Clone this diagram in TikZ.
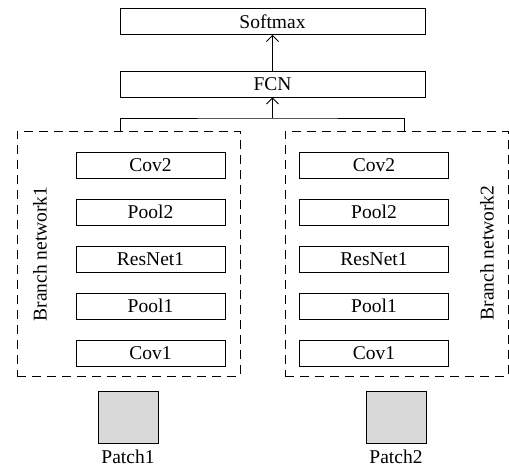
\documentclass[tikz,border=0pt]{standalone}
\usepackage{fontspec}
\setmainfont{Liberation Serif}
\usetikzlibrary{arrows.meta,positioning}

\begin{document}
\begin{tikzpicture}[>={Straight Barb[length=6pt,width=12pt]}, line width=0.9pt,
                    node distance=20pt, font=\fontsize{19.5}{22}\selectfont]
    \tikzstyle{layer}=[draw, minimum width=149pt, minimum height=26pt, inner sep=0pt]
    \tikzstyle{head}=[layer, minimum width=305pt]
    \tikzstyle{branch}=[draw, dash pattern=on 9pt off 6pt, minimum width=223pt,
                        minimum height=245pt, inner sep=0pt]
    \tikzstyle{patch}=[draw, fill=gray!30, minimum width=60pt, minimum height=52pt,
                       inner sep=0pt]

    \useasboundingbox (0,0) rectangle (509pt,-469pt);

    % classifier on top
    \node[head] (soft) at (272.5pt,-21.5pt) {Softmax};
    \node[head] (fcn)  at (272.5pt,-84pt)   {FCN};

    % first branch
    \node[branch] (br1) at (128.5pt,-253.5pt) {};
    \node[layer] (cov1a)   at (150.5pt,-353pt)   {Cov1};
    \node[layer] (pool1a)  [above=of cov1a]      {Pool1};
    \node[layer] (res1a)   [above=of pool1a]     {ResNet1};
    \node[layer] (pool2a)  [above=of res1a]      {Pool2};
    \node[layer] (cov2a)   [above=of pool2a]     {Cov2};
    \node[rotate=90] (lab1) at (40pt,-254pt)     {Branch network1};

    % second branch
    \node[branch] (br2) at (396.5pt,-253.5pt) {};
    \node[layer] (cov1b)   at (374pt,-353pt)     {Cov1};
    \node[layer] (pool1b)  [above=of cov1b]      {Pool1};
    \node[layer] (res1b)   [above=of pool1b]     {ResNet1};
    \node[layer] (pool2b)  [above=of res1b]      {Pool2};
    \node[layer] (cov2b)   [above=of pool2b]     {Cov2};
    \node[rotate=90] (lab2) at (487pt,-253pt)    {Branch network2};

    % input patches
    \node[patch] (patch1) at (128pt,-417pt) {};
    \node[patch] (patch2) at (396pt,-417pt) {};
    \node (name1) [below=3pt of patch1] {Patch1};
    \node (name2) [below=3pt of patch2] {Patch2};

    % merge branches into FCN
    \coordinate (tap1) at (120pt,-131pt);
    \coordinate (tap2) at (404pt,-131pt);
    \coordinate (join) at (fcn.south |- 0,-118pt);
    \draw (tap1) |- (join) -| (tap2);
    \path[->] (join) edge (fcn);
    \path[->] (fcn)  edge (soft);
\end{tikzpicture}
\end{document}
